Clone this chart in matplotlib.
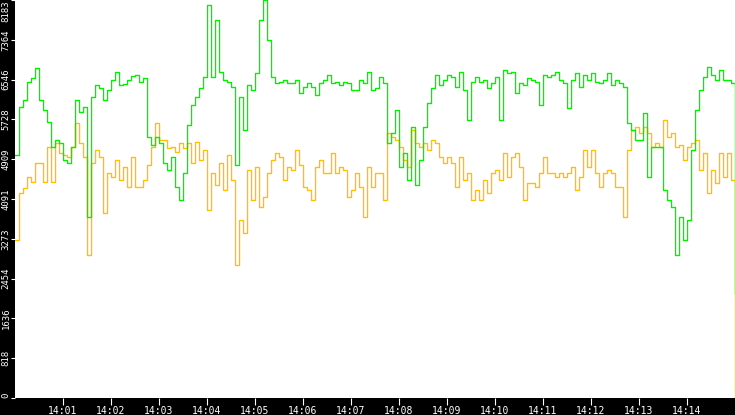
import matplotlib
matplotlib.use("Agg")
import matplotlib.pyplot as plt
import matplotlib.dates as mdates
import pandas as pd

# samples every 5 s, 14:00:00 -> 14:15:00
times = pd.date_range("2024-01-01 14:00:00", periods=181, freq="5s")

green = [
    5000, 5980, 6130, 6500, 6580, 6790, 6130, 5920, 5680, 5160, 5300, 5240,
    4890, 4830, 5160, 6130, 5880, 5980, 3720, 6190, 6440, 6370, 6130, 6330,
    6540, 6700, 6440, 6460, 6540, 6620, 6640, 6500, 6580, 5370, 5200, 5370,
    5240, 4830, 4690, 4960, 4340, 4070, 4630, 5610, 6020, 6190,
    6370, 6600, 8080, 6600, 7770, 6700, 6540, 6500, 6390, 4790, 6190, 5510,
    6440, 6330, 6680, 7770, 8183, 7360, 6600, 6480, 6500, 6540, 6480, 6480,
    6540, 6270, 6390, 6480, 6390, 6230, 6480, 6540, 6640, 6480, 6500, 6440,
    6500, 6480, 6330, 6330, 6540, 6480, 6700, 6330, 6370,
    6600, 6480, 5240, 5450, 5920, 4750, 5040, 4480, 5570, 4380, 4890, 5570,
    6070, 6370, 6640, 6440, 6540, 6640, 6600, 6390, 6700, 6330, 5720, 6500,
    6600, 6500, 6540, 6370, 6480, 6600, 5720, 6740, 6680, 6700, 6270, 6480,
    6440, 6580, 6540, 6500, 6020, 6640, 6600, 6640, 6700,
    6540, 6480, 5960, 6540, 6680, 6390, 6640, 6540, 6680, 6500, 6480, 6540,
    6680, 6440, 6540, 6480, 6390, 5650, 5510, 5300, 5300, 5860, 4540, 5160,
    5160, 5160, 4280, 4070, 3930, 2940, 3720, 3250, 3660, 5100, 5920, 6330,
    6600, 6800, 6640, 6540, 6740, 6540, 6540, 6480, 2160,
]

orange = [
    3250, 4220, 4320, 4540, 4440, 4830, 4830, 4440, 5160, 4440, 5240, 5040,
    5000, 4960, 5160, 5650, 5240, 4960, 2940, 4830, 5100, 4960, 3800, 4630,
    4540, 4890, 4480, 4750, 4340, 4960, 4340, 4340, 4480, 4790, 5160, 5650,
    5300, 5300, 5140, 5160, 5060, 5240, 5140, 5240, 4830, 5260,
    4890, 5100, 3870, 4630, 4380, 4830, 4280, 5000, 4480, 2740, 3660, 3390,
    4690, 4070, 4750, 3930, 4130, 4630, 4890, 5040, 4960, 4480, 4750, 4690,
    5100, 4790, 4340, 4280, 4070, 4750, 4890, 4630, 4630, 5040, 4630, 4750,
    4690, 4130, 4280, 4630, 4340, 3720, 4750, 4340, 4630,
    4630, 4070, 5450, 5370, 5300, 5160, 4890, 4750, 5510, 5240, 5160, 5240,
    5100, 5300, 5240, 4960, 4830, 4960, 4830, 4340, 4960, 4480, 4630, 4070,
    4280, 4070, 4480, 4220, 4630, 4690, 4480, 5040, 4540, 4960, 5040, 4750,
    4070, 4420, 4420, 4340, 4630, 4960, 4630, 4630, 4540,
    4630, 4540, 4630, 4750, 4280, 4540, 5100, 4750, 5100, 4630, 4340, 4630,
    4690, 4630, 4340, 4340, 3720, 5100, 5510, 5570, 5450, 5570, 5450, 5160,
    5240, 5160, 5720, 5370, 5450, 5160, 5200, 4890, 5160, 5240, 5300, 4690,
    5040, 4220, 4690, 4420, 5040, 4540, 5040, 4480, 0,
]

yticks = [0, 818, 1636, 2454, 3273, 4091, 4909, 5728, 6546, 7364, 8183]

fig = plt.figure(figsize=(7.35, 4.15), dpi=100, facecolor="black")
ax = fig.add_axes([15 / 735, 17 / 415, 720 / 735, 398 / 415])
ax.set_facecolor("white")

ax.plot(times, orange, color="#ffc000", lw=1.0, drawstyle="steps-post",
        snap=True)
ax.plot(times, green, color="#00f000", lw=1.0, drawstyle="steps-post",
        snap=True)

ax.set_xlim(times[0], times[-1])
ax.set_ylim(0, 8183)

ax.xaxis.set_major_locator(mdates.MinuteLocator(byminute=range(1, 15)))
ax.xaxis.set_major_formatter(mdates.DateFormatter("%H:%M"))
ax.set_yticks(yticks)
ax.set_yticklabels([str(v) for v in yticks], rotation=90, va="center")
ax.get_yticklabels()[-1].set_va("top")
ax.get_yticklabels()[0].set_va("bottom")

ax.tick_params(axis="y", colors="white", length=3, width=0.8, pad=0.3,
               labelsize=6.5)
ax.tick_params(axis="x", colors="white", length=5, width=0.8, pad=0.5,
               labelsize=7)
for lbl in ax.get_xticklabels() + ax.get_yticklabels():
    lbl.set_family("DejaVu Sans Mono")

for s in ax.spines.values():
    s.set_visible(False)

fig.savefig("out.png", dpi=100, facecolor="black")
